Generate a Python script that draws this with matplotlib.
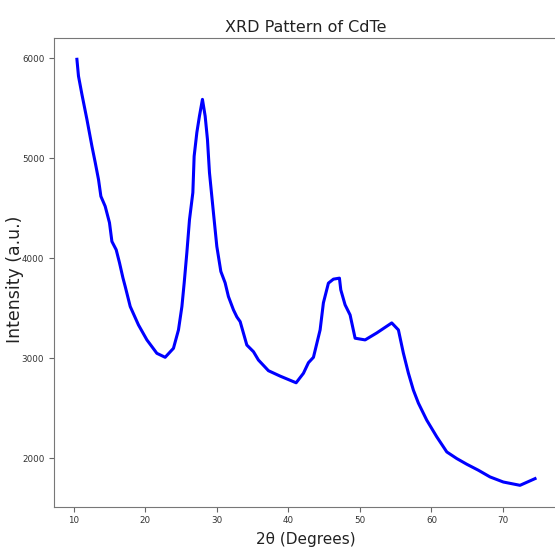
import matplotlib
matplotlib.use("Agg")
import matplotlib.pyplot as plt

# 2theta (degrees) and intensity
two_theta = [10.46, 10.68, 11.16, 11.86, 12.56, 13.02, 13.48, 13.81, 14.41, 15.01,
             15.35, 15.95, 16.41, 16.89, 17.21, 17.91, 19.06, 20.24, 21.63, 22.79,
             23.95, 24.65, 25.13, 25.45, 25.82, 26.19, 26.66, 26.84, 27.22, 27.58,
             28.00, 28.38, 28.70, 28.98, 29.54, 30.01, 30.57, 31.17, 31.63, 32.33,
             32.81, 33.27, 34.20, 35.13, 35.82, 37.22, 38.85, 41.09, 42.11, 42.81,
             43.51, 44.44, 44.90, 45.60, 46.30, 47.14, 47.33, 47.93, 48.63, 49.33,
             50.73, 52.36, 54.45, 55.38, 56.07, 56.77, 57.47, 58.17, 59.34, 60.74,
             62.14, 63.53, 64.93, 66.55, 68.18, 70.04, 72.37, 74.47]
intensity = [5990, 5822, 5639, 5388, 5120, 4957, 4786, 4619, 4519, 4355,
             4167, 4084, 3954, 3803, 3716, 3516, 3332, 3182, 3048, 3008,
             3098, 3282, 3516, 3753, 4054, 4385, 4656, 5020, 5258, 5421,
             5589, 5421, 5188, 4857, 4452, 4117, 3867, 3753, 3616, 3483,
             3412, 3365, 3131, 3064, 2981, 2874, 2820, 2753, 2848, 2954,
             3008, 3282, 3553, 3750, 3790, 3800, 3683, 3533, 3432, 3199,
             3182, 3252, 3352, 3282, 3051, 2851, 2680, 2550, 2379, 2212,
             2061, 1995, 1938, 1878, 1811, 1760, 1727, 1794]

narrow = ["DejaVu Sans Condensed", "Liberation Sans Narrow", "DejaVu Sans"]

fig = plt.figure(figsize=(5.55, 5.49), dpi=100)
ax = fig.add_axes([0.0973, 0.0772, 0.908, 0.8536])

ax.plot(two_theta, intensity, color="blue", linewidth=2.2)

ax.set_title("XRD Pattern of CdTe", family=narrow, fontsize=11.5, color="#222222", pad=4)
ax.set_xlabel("2θ (Degrees)", family=narrow, fontsize=11, color="#222222", labelpad=5)
ax.set_ylabel("Intensity (a.u.)", fontsize=12.5, color="#222222")
ax.yaxis.set_label_coords(-0.06, 0.485)

ax.set_xticks([10, 20, 30, 40, 50, 60, 70])
ax.set_yticks([2000, 3000, 4000, 5000, 6000])
for lbl in ax.get_xticklabels() + ax.get_yticklabels():
    lbl.set_family(narrow)
    lbl.set_fontsize(6.3)
    lbl.set_color("#333333")
ax.tick_params(length=3.5, color="#666666")
for s in ax.spines.values():
    s.set_color("#777777")

fig.savefig("out.png", dpi=100)
